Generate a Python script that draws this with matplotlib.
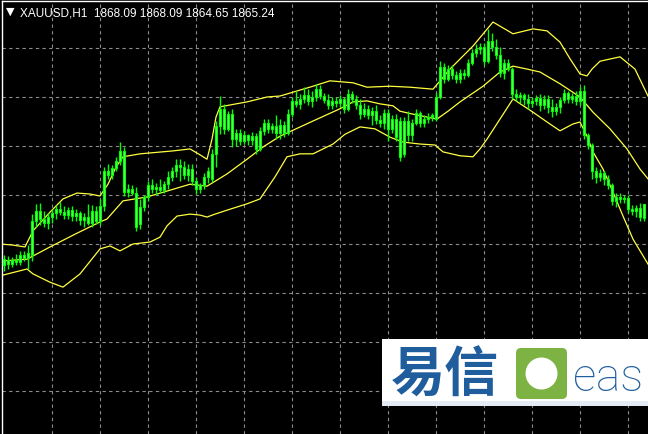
import matplotlib

matplotlib.use("Agg")
import matplotlib.pyplot as plt
import numpy as np
from matplotlib.patches import Circle, FancyBboxPatch, Rectangle

symbol = "XAUUSD,H1"
last_ohlc = [1868.09, 1868.09, 1864.65, 1865.24]

# hourly candles, oldest first (bar 1 is the left edge)
opens = [
    1855.7, 1856.7, 1855.9, 1856.7, 1856.3, 1857.8, 1857.1, 1857.8, 1864.7, 1866.7,
    1865.1, 1864.3, 1865.5, 1866.3, 1867.1, 1866.5, 1865.9, 1866.9, 1865.7, 1866.3,
    1864.9, 1865.5, 1864.3, 1866.7, 1864.7, 1867.8, 1874.9, 1874.1, 1875.5, 1876.9,
    1879.0, 1870.6, 1871.2, 1870.4, 1864.1, 1867.6, 1869.6, 1872.0, 1871.2, 1871.6,
    1871.0, 1872.2, 1873.7, 1874.9, 1876.1, 1875.7, 1874.1, 1875.3, 1872.9, 1871.2,
    1872.0, 1873.7, 1873.3, 1878.4, 1884.1, 1887.6, 1883.5, 1886.5, 1881.4, 1882.6,
    1881.0, 1882.2, 1881.2, 1882.0, 1879.4, 1883.1, 1884.7, 1883.5, 1884.1, 1882.6,
    1884.3, 1882.6, 1886.5, 1889.2, 1888.6, 1889.6, 1890.4, 1889.2, 1890.0, 1891.6,
    1890.2, 1889.4, 1888.4, 1889.2, 1888.8, 1889.6, 1887.6, 1890.6, 1889.6, 1888.4,
    1886.5, 1887.6, 1886.3, 1887.1, 1885.3, 1884.7, 1886.7, 1883.5, 1885.5, 1885.1,
    1878.4, 1885.1, 1882.2, 1884.7, 1886.7, 1884.7, 1885.5, 1885.9, 1885.5, 1890.0,
    1896.1, 1893.7, 1895.7, 1894.5, 1893.7, 1894.9, 1894.5, 1896.9, 1899.0, 1899.8,
    1900.2, 1897.3, 1901.4, 1900.2, 1898.6, 1894.9, 1896.9, 1895.7, 1890.6, 1890.0,
    1890.4, 1889.6, 1888.8, 1889.2, 1889.8, 1888.4, 1889.6, 1888.0, 1887.1, 1888.0,
    1889.4, 1890.8, 1889.6, 1890.2, 1889.2, 1891.2, 1882.2, 1880.2, 1874.9, 1873.7,
    1874.5, 1873.3, 1872.0, 1868.8, 1869.6, 1869.2, 1869.4, 1867.1, 1866.7, 1867.3,
    1868.09,
]
highs = [
    1857.8, 1857.6, 1857.3, 1858.0, 1858.6, 1858.6, 1859.8, 1866.1, 1868.2, 1868.4,
    1866.7, 1866.3, 1867.1, 1868.0, 1868.6, 1867.8, 1867.6, 1867.8, 1867.1, 1866.7,
    1866.3, 1868.2, 1868.0, 1867.8, 1869.2, 1875.7, 1876.3, 1876.1, 1877.8, 1880.8,
    1879.8, 1872.2, 1872.0, 1871.6, 1869.2, 1870.0, 1872.9, 1873.3, 1872.5, 1873.3,
    1872.9, 1874.9, 1875.7, 1877.3, 1877.3, 1876.9, 1876.3, 1876.3, 1873.7, 1872.5,
    1874.5, 1875.7, 1879.4, 1885.1, 1890.2, 1888.6, 1887.1, 1887.6, 1883.5, 1883.5,
    1883.1, 1882.4, 1882.9, 1882.6, 1883.9, 1885.5, 1885.5, 1884.7, 1886.3, 1885.5,
    1885.1, 1887.6, 1890.0, 1891.2, 1890.6, 1892.0, 1891.6, 1891.2, 1892.7, 1892.5,
    1890.8, 1890.6, 1890.0, 1890.0, 1890.4, 1890.0, 1891.6, 1891.2, 1890.4, 1889.6,
    1888.8, 1888.4, 1888.0, 1888.4, 1886.3, 1887.6, 1887.6, 1886.3, 1886.5, 1885.9,
    1885.9, 1887.1, 1885.5, 1887.6, 1887.1, 1886.3, 1886.7, 1886.7, 1890.8, 1897.3,
    1896.9, 1896.5, 1896.5, 1895.3, 1895.7, 1895.7, 1897.8, 1899.8, 1900.8, 1901.0,
    1901.0, 1903.9, 1903.1, 1901.8, 1900.2, 1897.8, 1897.8, 1896.1, 1891.6, 1891.0,
    1890.8, 1890.6, 1890.0, 1890.4, 1890.6, 1890.4, 1890.4, 1889.6, 1888.8, 1890.0,
    1891.6, 1891.2, 1890.8, 1891.2, 1892.0, 1892.5, 1882.6, 1880.6, 1875.7, 1875.3,
    1874.9, 1874.1, 1872.5, 1870.4, 1870.4, 1870.0, 1870.0, 1868.0, 1868.0, 1868.4,
    1868.09,
]
lows = [
    1854.5, 1854.9, 1855.3, 1855.7, 1855.7, 1856.5, 1854.9, 1856.5, 1863.5, 1863.9,
    1863.5, 1863.1, 1864.3, 1865.1, 1865.9, 1865.1, 1865.1, 1864.7, 1864.7, 1863.9,
    1863.5, 1863.9, 1863.5, 1864.1, 1863.9, 1866.7, 1873.3, 1873.3, 1874.9, 1876.1,
    1869.8, 1869.6, 1870.0, 1862.7, 1863.1, 1866.7, 1868.8, 1870.4, 1870.0, 1870.4,
    1870.4, 1871.2, 1872.9, 1873.7, 1872.9, 1873.3, 1872.9, 1872.0, 1870.2, 1870.4,
    1871.2, 1872.5, 1872.7, 1875.7, 1882.4, 1882.4, 1883.1, 1879.8, 1880.0, 1880.2,
    1880.4, 1880.2, 1880.2, 1878.4, 1879.0, 1882.2, 1882.6, 1882.6, 1881.4, 1881.4,
    1881.8, 1882.2, 1885.9, 1888.0, 1887.6, 1888.8, 1888.4, 1888.0, 1889.2, 1889.6,
    1888.8, 1887.6, 1887.6, 1888.0, 1888.0, 1886.7, 1887.1, 1888.8, 1887.6, 1885.5,
    1885.9, 1885.5, 1884.3, 1884.5, 1883.9, 1883.5, 1881.0, 1882.6, 1881.0, 1876.9,
    1877.8, 1881.0, 1881.0, 1884.3, 1883.9, 1883.9, 1884.7, 1885.1, 1885.1, 1889.6,
    1892.9, 1893.3, 1893.7, 1892.9, 1892.9, 1893.7, 1894.1, 1896.5, 1898.2, 1898.8,
    1896.5, 1896.9, 1899.4, 1897.8, 1894.1, 1893.7, 1895.3, 1889.6, 1889.2, 1888.8,
    1888.4, 1887.6, 1888.0, 1888.4, 1887.1, 1887.6, 1886.7, 1885.9, 1886.3, 1886.7,
    1888.8, 1888.8, 1888.8, 1888.4, 1888.4, 1881.4, 1879.4, 1873.3, 1872.5, 1872.9,
    1872.0, 1871.2, 1868.0, 1867.6, 1868.4, 1868.4, 1866.3, 1865.9, 1865.5, 1864.7,
    1864.65,
]
closes = [
    1856.9, 1855.9, 1856.7, 1856.3, 1857.8, 1857.1, 1858.2, 1864.7, 1866.7, 1865.1,
    1864.3, 1865.5, 1866.3, 1867.1, 1866.5, 1865.9, 1866.9, 1865.7, 1866.3, 1864.9,
    1865.5, 1864.3, 1866.7, 1864.7, 1867.8, 1874.9, 1874.1, 1875.5, 1876.9, 1879.0,
    1870.6, 1871.2, 1870.4, 1863.5, 1867.6, 1869.6, 1872.0, 1871.2, 1871.6, 1871.0,
    1872.2, 1873.7, 1874.9, 1876.1, 1875.7, 1874.1, 1875.3, 1872.9, 1871.2, 1872.0,
    1873.7, 1874.9, 1878.4, 1884.1, 1887.6, 1883.5, 1886.5, 1881.4, 1882.6, 1881.0,
    1882.2, 1881.2, 1882.0, 1879.4, 1883.1, 1884.7, 1883.5, 1884.1, 1882.6, 1884.3,
    1882.6, 1886.5, 1889.2, 1888.6, 1889.6, 1890.4, 1889.2, 1890.0, 1891.6, 1890.2,
    1889.4, 1888.4, 1889.2, 1888.8, 1889.6, 1887.6, 1890.6, 1889.6, 1888.4, 1886.5,
    1887.6, 1886.3, 1887.1, 1885.3, 1884.7, 1886.7, 1883.5, 1885.5, 1881.8, 1877.8,
    1885.1, 1882.2, 1884.7, 1886.7, 1884.7, 1885.5, 1885.9, 1886.3, 1890.0, 1896.1,
    1893.7, 1895.7, 1894.5, 1893.7, 1894.9, 1894.5, 1896.9, 1899.0, 1899.8, 1900.2,
    1897.3, 1901.4, 1900.2, 1898.6, 1894.9, 1896.9, 1895.7, 1890.6, 1890.0, 1890.4,
    1889.6, 1888.8, 1889.2, 1889.8, 1888.4, 1889.6, 1888.0, 1887.1, 1888.0, 1889.4,
    1890.8, 1889.6, 1890.2, 1889.2, 1891.2, 1882.2, 1880.2, 1874.9, 1873.7, 1874.5,
    1873.3, 1872.0, 1868.8, 1869.6, 1869.2, 1869.4, 1867.1, 1866.7, 1867.3, 1865.5,
    1865.24,
]

# Bollinger bands (bar position, price)
upper_pos = [0, 3, 6.25, 8.25, 10.5, 12.5, 15.75, 19.25, 22.5, 25, 27, 29, 30.75, 35, 43.25,
             47.5, 50, 51.75, 53, 54, 55, 61.75, 66.75, 70, 78.25, 82.5, 88.25, 91.75, 97.5,
             102.5, 108.25, 112.5, 118.25, 123.25, 128.25, 133.25, 136.75, 140, 142.5, 145,
             146.75, 148, 150, 155, 158.75, 162]
upper_band = [1860.0, 1859.8, 1859.4, 1862.7, 1864.7, 1866.5, 1869.2, 1870.4, 1870.2, 1869.8,
              1872.2, 1875.7, 1877.8, 1878.4, 1879.0, 1879.4, 1878.2, 1877.3, 1881.4, 1885.9,
              1888.0, 1889.0, 1890.0, 1890.2, 1892.2, 1893.3, 1892.9, 1892.0, 1892.2, 1892.0,
              1891.6, 1895.7, 1900.4, 1905.3, 1902.9, 1903.9, 1903.5, 1901.2, 1897.8, 1894.7,
              1894.3, 1895.7, 1897.3, 1898.2, 1895.7, 1890.2]
middle_pos = [0, 6.75, 12.5, 18.75, 25, 26.75, 30.75, 36.75, 41.75, 47.5, 51.75, 56.75, 61.75,
              65.75, 70, 78.25, 85, 88.25, 91.75, 95, 98.25, 100, 103.25, 106.75, 109.25, 112,
              115, 120.75, 125, 128.25, 131.75, 135, 140, 145, 148.25, 152.5, 156.75, 160, 162]
middle_band = [1856.5, 1856.9, 1859.4, 1862.0, 1864.5, 1865.1, 1868.8, 1869.6, 1870.8, 1872.2,
               1871.8, 1874.3, 1877.3, 1879.8, 1882.0, 1885.1, 1887.6, 1889.0, 1889.2, 1888.6,
               1888.2, 1887.1, 1886.5, 1885.9, 1885.5, 1887.1, 1889.0, 1892.2, 1895.1, 1896.3,
               1895.7, 1895.1, 1892.7, 1890.0, 1886.9, 1883.5, 1879.4, 1875.3, 1873.3]
lower_pos = [0, 6.75, 8.25, 12.5, 15.75, 20, 25, 27.5, 30, 33.25, 37.5, 40, 41.75, 44.25, 47.5,
             50, 51.75, 53.75, 57.5, 61.75, 65, 68.75, 71.75, 75, 78.25, 83.25, 86.25, 90,
             93.75, 97.5, 100.75, 105, 108.75, 110.75, 115, 118.25, 120, 121.75, 125, 128.25,
             133.25, 136.75, 140, 143.25, 145, 146.75, 148.25, 150.75, 153.25, 155.75, 158.25,
             160.75, 162]
lower_band = [1853.5, 1854.9, 1853.9, 1852.2, 1851.2, 1853.9, 1859.0, 1859.6, 1858.6, 1860.0,
              1860.4, 1861.4, 1863.7, 1865.7, 1866.1, 1865.9, 1865.5, 1866.1, 1867.1, 1868.2,
              1869.2, 1873.7, 1877.8, 1878.4, 1878.4, 1880.4, 1882.4, 1883.9, 1883.5, 1881.8,
              1880.8, 1880.4, 1880.2, 1878.8, 1878.0, 1877.8, 1879.4, 1881.4, 1885.5, 1889.6,
              1886.9, 1884.9, 1883.1, 1884.5, 1884.9, 1882.0, 1878.8, 1875.3, 1870.6, 1865.7,
              1861.0, 1857.6, 1855.9]

grid_prices = [1830, 1840, 1850, 1860, 1870, 1880, 1890, 1900]
grid_bars = [13, 25, 37, 49, 61, 73, 85, 97, 109, 121, 133, 145, 157]

W, H = 648, 435
fig = plt.figure(figsize=(W / 100, H / 100), dpi=100, facecolor="black")
ax = fig.add_axes([2 / W, 0, (W - 2) / W, (H - 2) / H])
ax.set_facecolor("black")

bar_pos = np.arange(1, len(closes) + 1)
o = np.array(opens)
c = np.array(closes)
ax.vlines(bar_pos, lows, highs, color="#00ff00", linewidth=1, zorder=3)
ax.bar(bar_pos, c - o, bottom=o, width=0.7, color="#66ff66", edgecolor="#00ff00",
       linewidth=0.8, zorder=4)

band_style = dict(color="#ffff40", linewidth=0.9, zorder=2)
ax.plot(upper_pos, upper_band, **band_style)
ax.plot(middle_pos, middle_band, **band_style)
ax.plot(lower_pos, lower_band, **band_style)

ax.set_xlim(0.5, 0.5 + (W - 2) / 4)
ax.set_ylim(1910 - H / 4.9, 1910 - 2 / 4.9)
ax.set_xticks(grid_bars)
ax.set_yticks(grid_prices)
ax.grid(True, color="#8c8c8c", linestyle=(0, (3, 3)), linewidth=0.8, zorder=1)
ax.tick_params(length=0, labelbottom=False, labelleft=False)
for side in ("right", "bottom"):
    ax.spines[side].set_visible(False)
for side in ("left", "top"):
    ax.spines[side].set_color("white")
    ax.spines[side].set_linewidth(1)

title = symbol + "  " + " ".join(f"{v:.2f}" for v in last_ohlc)
fig.text(20 / W, 1 - 13 / H, title, color="white", fontsize=8.5,
         family="Liberation Sans", va="center", ha="left")
fig.text(6 / W, 1 - 12 / H, "\u25bc", color="white", fontsize=8,
         family="DejaVu Sans", va="center", ha="left")

# watermark logo in pixel coordinates
ov = fig.add_axes([0, 0, 1, 1], zorder=10)
ov.set_xlim(0, W)
ov.set_ylim(H, 0)
ov.axis("off")
ov.patch.set_alpha(0)
ov.add_patch(Rectangle((382, 340), W - 382, 67, facecolor="white", edgecolor="none"))
ov.add_patch(Rectangle((382, 402), W - 382, 5, facecolor="#e4eaf2", edgecolor="none"))
ov.text(391, 376, "易信", color="#1f5d9c", fontsize=39, fontweight="bold",
        family=["Noto Sans CJK SC", "DejaVu Sans"], va="center", ha="left")
ov.add_patch(FancyBboxPatch((516, 349), 51, 51, boxstyle="round,pad=0,rounding_size=5",
                            facecolor="#7cb342", edgecolor="none"))
ov.add_patch(Circle((541.5, 374.5), 16, facecolor="white", edgecolor="none"))
ov.text(573, 378, "eas", color="#1f5d9c", fontsize=33, family="Roboto",
        fontweight="light", va="center", ha="left")

fig.savefig("out.png", dpi=100, facecolor="black")
